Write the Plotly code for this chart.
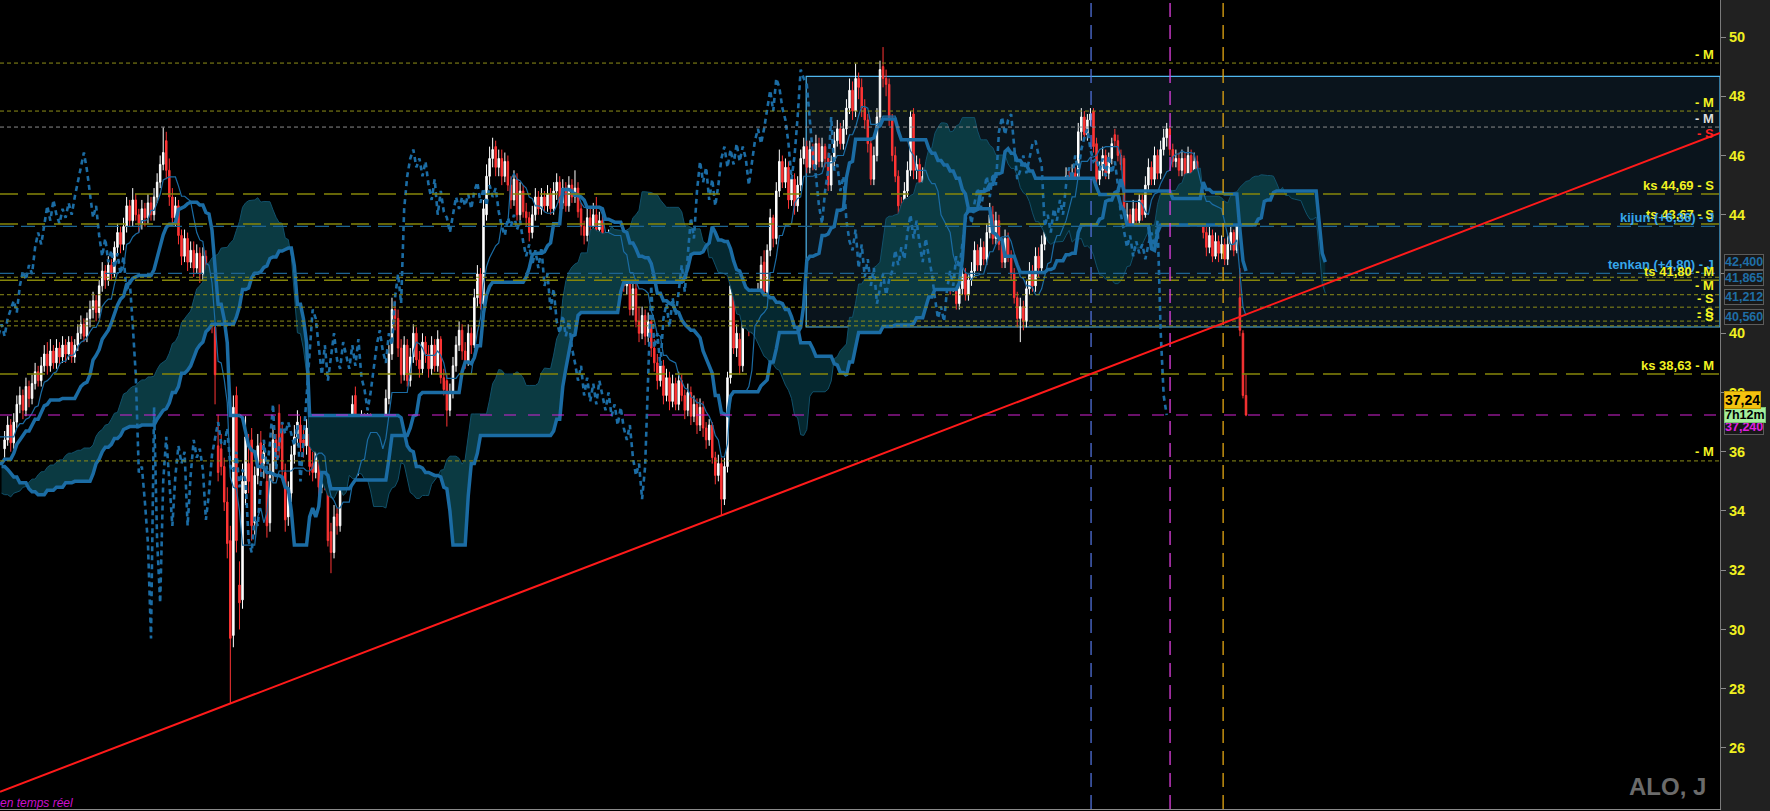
import numpy as np
import pandas as pd
import plotly.graph_objects as go

# ---------------- data ----------------
# hidden history bars (needed only for the Ichimoku look-back windows)
hist_close = [37.6, 38.0, 37.8, 37.5, 37.1, 37.3, 36.8, 36.5, 36.9, 36.4,
              36.0, 36.3, 35.8, 35.5, 35.9, 35.3, 34.9, 35.2, 34.6, 34.3,
              34.7, 34.2, 33.8, 34.1, 33.5, 33.9, 33.3, 33.0, 33.4, 33.0,
              33.6, 34.0, 33.7, 34.3, 34.6, 34.2, 34.8, 35.1, 34.7, 35.2,
              34.9, 35.4, 35.0, 34.6, 35.1, 35.5, 35.0, 34.7, 35.2, 34.8,
              34.5, 34.9, 34.3, 34.7, 35.1, 34.6, 35.0, 35.4, 35.0, 35.5,
              35.8, 35.3, 35.7, 36.1, 35.6, 36.0, 36.4, 35.9, 36.3, 36.6,
              36.1, 36.5, 36.9, 36.3, 36.7, 37.0, 36.5, 36.1]
hist_high = [37.9, 38.3, 38.1, 37.8, 37.5, 37.6, 37.2, 36.8, 37.2, 36.8,
             36.4, 36.6, 36.2, 35.9, 36.2, 35.7, 35.3, 35.5, 35.0, 34.7,
             35.0, 34.6, 34.2, 34.4, 33.9, 34.2, 33.7, 33.4, 33.7, 33.4,
             33.9, 34.3, 34.1, 34.6, 34.9, 34.6, 35.1, 35.4, 35.1, 35.5,
             35.3, 35.7, 35.4, 35.0, 35.4, 35.8, 35.4, 35.1, 35.5, 35.2,
             34.9, 35.2, 34.7, 35.0, 35.4, 35.0, 35.3, 35.7, 35.4, 35.8,
             36.1, 35.7, 36.0, 36.4, 36.0, 36.3, 36.7, 36.3, 36.6, 36.9,
             36.5, 36.8, 37.2, 36.7, 37.0, 37.3, 36.9, 36.5]
hist_low = [37.2, 37.6, 37.4, 37.1, 36.8, 36.9, 36.4, 36.1, 36.5, 36.0,
            35.6, 35.9, 35.4, 35.1, 35.5, 34.9, 34.5, 34.8, 34.2, 33.9,
            34.3, 33.8, 33.4, 33.7, 33.1, 33.5, 32.9, 32.7, 33.0, 32.7,
            33.2, 33.6, 33.3, 33.9, 34.2, 33.8, 34.4, 34.7, 34.3, 34.8,
            34.5, 35.0, 34.6, 34.2, 34.7, 35.1, 34.6, 34.3, 34.8, 34.4,
            34.1, 34.5, 33.9, 34.3, 34.7, 34.2, 34.6, 35.0, 34.6, 35.1,
            35.4, 34.9, 35.3, 35.7, 35.2, 35.6, 36.0, 35.5, 35.9, 36.2,
            35.7, 36.1, 36.5, 35.9, 36.3, 36.6, 36.1, 35.7]

opens = [36.1, 36.4, 36.9, 36.3, 37.0, 37.6, 37.9, 37.4, 38.2, 37.8,
         38.3, 38.7, 38.4, 38.9, 39.3, 38.9, 39.4, 39.0, 39.5, 39.2,
         39.6, 39.3, 39.7, 39.2, 39.6, 40.0, 40.3, 39.9, 40.5, 40.8,
         41.1, 40.7, 41.6, 42.1, 41.8, 42.3, 42.0, 42.9, 43.4, 43.0,
         43.6, 44.3, 43.8, 44.5, 44.0, 43.7, 44.2, 43.9, 44.4, 44.0,
         44.6, 45.1, 45.7, 46.5, 45.5, 44.6, 43.9, 44.3, 43.3, 42.6,
         43.2, 42.4, 42.8, 42.2, 42.7, 42.0, 42.6, 41.4, 41.8, 40.2,
         36.2, 36.1, 35.5, 34.3, 33.0, 29.8, 37.9, 31.5, 31.0, 34.6,
         35.6, 36.4, 33.6, 35.2, 36.3, 35.6, 35.0, 33.6, 35.2, 36.4,
         37.3, 36.7, 35.3, 33.8, 34.6, 35.9, 36.5, 36.9, 36.4, 36.2,
         36.6, 35.6, 35.3, 36.0, 34.8, 35.4, 34.9, 33.3, 32.6, 33.9,
         33.5, 34.8, 36.45, 35.4, 36.3, 37.9, 35.4, 36.2, 37.0, 36.6,
         37.0, 36.6, 36.2, 36.1, 35.0, 36.4, 37.8, 39.3, 40.8, 40.5,
         39.5, 38.6, 39.6, 38.4, 39.2, 40.0, 39.1, 38.8, 39.7, 39.3,
         38.8, 39.6, 38.9, 39.8, 38.5, 38.4, 37.4, 38.0, 38.9, 39.6,
         40.1, 39.4, 39.0, 40.0, 39.6, 41.2, 42.0, 41.0, 44.0, 45.3,
         45.9, 46.3, 45.6, 45.9, 45.3, 45.8, 45.0, 44.5, 45.2, 44.0,
         44.8, 44.1, 43.9, 43.4, 44.0, 44.6, 44.2, 44.6, 44.3, 44.7,
         44.2, 44.8, 45.1, 44.4, 44.9, 44.3, 45.0, 44.6, 44.9, 44.2,
         43.6, 43.3, 43.9, 43.6, 44.0, 43.5, 43.8, 43.1, 42.6, 43.0,
         42.3, 42.8, 42.2, 42.9, 41.6, 42.0, 40.8, 41.5, 40.4, 40.0,
         40.6, 39.9, 40.4, 39.5, 39.0, 38.4, 38.9, 37.9, 38.5, 37.7,
         38.3, 37.6, 38.4, 37.9, 37.4, 38.0, 37.2, 37.6, 36.9, 37.5,
         36.8, 36.4, 36.9, 35.8, 35.2, 35.6, 34.4, 35.5, 38.5, 41.8,
         39.5, 39.8, 38.9, 40.5, 41.0, 40.2, 41.2, 40.6, 41.4, 42.4,
         41.4, 42.8, 43.9, 43.2, 44.8, 45.8, 45.1, 45.6, 44.5, 45.2,
         44.3, 45.0, 45.9, 46.3, 45.6, 46.2, 45.7, 46.4, 45.8, 46.3,
         45.9, 45.0, 45.8, 46.5, 46.9, 46.4, 46.9, 47.6, 48.2, 47.5,
         48.6, 48.3, 47.6, 47.2, 46.4, 45.2, 46.0, 47.3, 49.0, 48.6,
         48.4, 47.2, 46.0, 45.3, 44.3, 43.7, 44.8, 45.5, 47.4, 45.5,
         45.7, 44.8, 45.3, 43.8, 43.1, 42.8, 43.5, 42.2, 43.0, 41.9,
         42.5, 41.6, 42.2, 41.0, 41.5, 42.0, 41.3, 41.8, 42.1, 42.8,
         42.3, 42.9, 42.5, 43.4, 44.0, 43.2, 43.8, 43.0, 42.4, 43.2,
         42.6, 42.0, 41.2, 40.5, 40.9, 40.4, 41.5, 42.1, 41.6, 42.6,
         42.2, 43.0, 43.8, 44.3, 43.7, 44.4, 44.9, 44.2, 44.8, 45.3,
         44.6, 45.4, 45.0, 46.8, 47.3, 46.7, 47.2, 47.5, 46.4, 45.2,
         45.5, 46.0, 45.4, 45.9, 46.7, 46.5, 46.0, 45.9, 43.6, 44.0,
         43.4, 44.2, 43.8, 44.5, 44.0, 45.0, 45.6, 45.2, 46.0, 45.4,
         46.2, 46.6, 46.9, 46.2, 45.8, 45.9, 45.5, 45.9, 45.3, 46.0,
         45.4, 45.8, 45.0, 44.1, 43.4, 42.9, 43.3, 42.6, 43.1, 42.7,
         43.0, 42.5, 43.0, 43.4, 42.8, 41.2, 40.0, 37.9]
highs = [36.7, 37.2, 37.1, 37.3, 37.9, 38.2, 38.1, 38.5, 38.4, 38.6,
         39.0, 38.9, 39.2, 39.6, 39.7, 39.8, 39.6, 39.8, 39.7, 39.9,
         39.8, 39.9, 39.9, 39.8, 40.3, 40.6, 40.5, 40.7, 41.1, 41.4,
         41.3, 41.8, 42.4, 42.3, 42.6, 42.5, 43.1, 43.7, 43.6, 43.9,
         44.6, 44.5, 44.9, 44.7, 44.2, 44.5, 44.4, 44.7, 44.6, 44.9,
         45.4, 46.0, 46.95, 46.8, 45.9, 44.9, 44.6, 44.5, 43.5, 43.5,
         43.4, 43.1, 43.1, 43.0, 42.9, 42.9, 42.8, 42.1, 42.0, 40.5,
         37.25, 36.6, 35.8, 34.8, 33.5, 37.9, 38.2, 32.3, 35.6, 37.2,
         36.6, 36.8, 35.5, 36.6, 36.7, 36.4, 35.3, 35.6, 36.9, 36.6,
         37.6, 37.0, 35.6, 35.0, 36.2, 36.9, 37.4, 37.2, 36.8, 37.1,
         36.8, 36.0, 36.3, 36.2, 35.7, 35.6, 35.1, 33.6, 34.2, 34.1,
         35.1, 36.7, 36.7, 36.6, 37.9, 38.2, 36.5, 37.4, 37.3, 37.3,
         37.3, 36.9, 37.1, 36.4, 36.7, 38.1, 39.6, 41.2, 41.1, 40.8,
         39.8, 39.9, 39.8, 39.5, 40.3, 40.2, 39.4, 40.0, 39.9, 39.6,
         39.9, 39.8, 40.1, 39.9, 38.8, 38.6, 38.3, 39.2, 39.9, 40.4,
         40.3, 39.7, 40.3, 40.2, 41.5, 42.3, 42.2, 44.5, 45.7, 46.3,
         46.6, 46.5, 46.2, 46.2, 46.1, 46.0, 45.3, 45.5, 45.4, 45.1,
         45.0, 44.4, 44.1, 44.3, 44.9, 44.8, 44.9, 44.8, 45.0, 44.9,
         45.1, 45.4, 45.3, 45.2, 45.1, 45.3, 45.2, 45.5, 45.1, 44.4,
         43.8, 44.2, 44.2, 44.4, 44.6, 44.1, 44.0, 43.3, 43.5, 43.2,
         43.1, 43.0, 43.3, 43.1, 42.3, 42.2, 41.8, 41.7, 40.9, 40.9,
         40.8, 40.7, 40.6, 39.8, 39.3, 39.2, 39.1, 38.8, 38.7, 38.6,
         38.5, 38.7, 38.6, 38.1, 38.3, 38.2, 37.9, 37.8, 37.8, 37.7,
         37.0, 37.1, 37.0, 36.0, 35.9, 35.8, 35.8, 38.7, 41.9, 42.2,
         40.3, 40.0, 40.8, 41.3, 41.2, 41.5, 41.4, 41.7, 42.6, 42.8,
         43.0, 44.2, 44.0, 45.1, 46.2, 46.0, 45.9, 45.8, 45.5, 45.4,
         45.3, 46.2, 46.6, 46.5, 46.5, 46.4, 46.7, 46.6, 46.6, 46.4,
         46.1, 46.0, 46.8, 47.2, 47.1, 47.2, 47.9, 48.6, 48.5, 49.1,
         48.8, 48.6, 47.9, 47.4, 46.6, 46.3, 47.6, 49.2, 49.66, 48.9,
         48.6, 47.4, 46.3, 45.5, 44.6, 45.1, 45.8, 47.5, 47.6, 46.0,
         45.9, 45.6, 45.5, 44.0, 43.4, 43.8, 43.7, 43.3, 43.2, 42.8,
         42.7, 42.5, 42.4, 41.8, 42.3, 42.2, 42.0, 42.4, 43.1, 43.0,
         43.2, 43.1, 43.7, 44.4, 44.3, 44.1, 44.0, 43.2, 43.5, 43.4,
         42.8, 42.2, 41.4, 41.2, 41.1, 41.8, 42.4, 42.3, 42.9, 42.9,
         43.3, 44.1, 44.6, 44.5, 44.7, 45.2, 45.1, 45.0, 45.6, 45.5,
         45.7, 45.6, 47.1, 47.6, 47.5, 47.4, 47.6, 47.6, 46.6, 45.8,
         46.3, 46.2, 46.1, 46.6, 46.9, 46.7, 46.2, 46.0, 44.4, 44.2,
         44.5, 44.4, 44.7, 44.7, 45.3, 45.9, 45.8, 46.3, 46.2, 46.5,
         46.9, 47.1, 47.0, 46.4, 46.2, 46.1, 46.2, 46.1, 46.3, 46.2,
         46.1, 46.0, 45.2, 44.3, 43.6, 43.6, 43.5, 43.4, 43.3, 43.3,
         43.2, 43.3, 43.7, 43.5, 44.0, 42.2, 40.1, 38.6]
lows = [35.8, 36.2, 36.0, 36.1, 36.8, 37.3, 37.1, 37.2, 37.5, 37.6,
        38.1, 38.2, 38.2, 38.7, 38.6, 38.7, 38.8, 38.8, 38.9, 39.0,
        39.0, 39.1, 39.0, 39.0, 39.4, 39.8, 39.7, 39.7, 40.2, 40.5,
        40.4, 40.5, 41.4, 41.5, 41.6, 41.8, 41.9, 42.7, 42.7, 42.8,
        43.4, 43.6, 43.6, 43.8, 43.4, 43.5, 43.6, 43.7, 43.8, 43.8,
        44.4, 44.9, 45.5, 45.2, 44.3, 43.6, 43.6, 43.0, 42.3, 42.4,
        42.1, 42.2, 41.9, 42.0, 41.7, 41.8, 41.2, 41.1, 40.0, 37.6,
        35.0, 35.2, 34.0, 32.4, 27.5, 29.4, 32.6, 30.0, 30.7, 34.2,
        34.6, 33.0, 33.2, 34.9, 35.2, 35.1, 33.1, 33.3, 35.0, 35.4,
        35.8, 35.1, 33.3, 33.5, 34.3, 35.6, 36.2, 36.0, 35.8, 35.9,
        35.2, 35.0, 35.1, 34.5, 34.6, 34.7, 32.8, 31.9, 32.4, 33.2,
        33.3, 34.6, 35.1, 35.2, 36.1, 35.1, 35.2, 36.0, 36.3, 36.3,
        36.3, 35.9, 36.0, 34.8, 34.8, 36.2, 37.6, 39.1, 40.1, 39.2,
        38.3, 38.4, 38.2, 38.2, 39.0, 38.9, 38.5, 38.6, 39.0, 38.5,
        38.6, 38.7, 38.7, 38.3, 37.9, 36.85, 37.2, 37.8, 38.7, 39.4,
        39.1, 38.8, 38.9, 39.3, 39.5, 40.9, 40.8, 40.8, 43.8, 45.0,
        45.6, 45.3, 45.3, 45.0, 45.1, 44.8, 44.2, 44.3, 43.8, 43.8,
        43.9, 43.6, 43.1, 43.2, 43.8, 44.0, 44.0, 44.1, 44.1, 44.0,
        44.0, 44.5, 44.2, 44.2, 44.1, 44.1, 44.4, 44.4, 43.9, 43.3,
        43.0, 43.1, 43.3, 43.4, 43.3, 43.3, 42.9, 42.2, 42.4, 42.1,
        42.0, 42.0, 42.0, 41.4, 41.3, 40.6, 40.6, 40.2, 39.7, 39.8,
        39.6, 39.7, 39.2, 38.7, 38.1, 38.2, 37.6, 37.7, 37.4, 37.5,
        37.4, 37.4, 37.7, 37.1, 37.2, 36.9, 37.0, 36.6, 36.7, 36.5,
        36.1, 36.2, 35.6, 34.9, 35.0, 33.85, 34.2, 35.3, 38.3, 39.3,
        39.2, 38.6, 38.7, 40.2, 39.9, 40.0, 40.4, 40.4, 41.2, 41.1,
        41.2, 42.6, 42.9, 43.0, 44.6, 44.9, 44.9, 44.2, 44.3, 44.0,
        44.1, 44.8, 45.7, 45.4, 45.4, 45.5, 45.5, 45.6, 45.6, 45.6,
        44.8, 44.8, 45.6, 46.3, 46.2, 46.2, 46.7, 47.4, 47.2, 47.3,
        47.9, 47.3, 46.9, 46.1, 45.0, 45.0, 45.8, 47.1, 48.3, 48.0,
        47.0, 45.8, 45.1, 44.0, 43.4, 43.5, 44.6, 45.3, 45.2, 45.2,
        44.5, 44.6, 43.6, 42.8, 42.5, 42.6, 42.0, 42.0, 41.7, 41.7,
        41.3, 41.4, 40.8, 40.8, 41.3, 41.1, 41.1, 41.6, 41.9, 42.1,
        42.1, 42.3, 42.3, 43.2, 43.0, 43.0, 42.8, 42.2, 42.2, 42.4,
        41.8, 41.0, 40.2, 39.7, 40.1, 40.2, 41.3, 41.4, 41.4, 41.9,
        42.0, 42.8, 43.6, 43.5, 43.5, 44.2, 44.0, 44.0, 44.6, 44.3,
        44.4, 44.8, 44.9, 46.5, 46.5, 46.5, 47.0, 46.1, 45.0, 45.0,
        45.3, 45.2, 45.2, 45.7, 46.3, 45.8, 45.5, 42.0, 43.3, 43.1,
        43.2, 43.6, 43.6, 43.8, 43.9, 44.8, 45.0, 45.0, 45.2, 45.2,
        46.0, 46.3, 46.0, 45.6, 45.6, 45.3, 45.3, 45.1, 45.1, 45.2,
        45.2, 44.8, 43.9, 43.2, 42.6, 42.7, 42.4, 42.5, 42.4, 42.5,
        42.3, 42.3, 42.8, 42.6, 42.7, 39.9, 37.8, 37.2]
closes = [36.4, 36.9, 36.3, 37.0, 37.6, 37.9, 37.4, 38.2, 37.8, 38.3,
          38.7, 38.4, 38.9, 39.3, 38.9, 39.4, 39.0, 39.5, 39.2, 39.6,
          39.3, 39.7, 39.2, 39.6, 40.0, 40.3, 39.9, 40.5, 40.8, 41.1,
          40.7, 41.6, 42.1, 41.8, 42.3, 42.0, 42.9, 43.4, 43.0, 43.6,
          44.3, 43.8, 44.5, 44.0, 43.7, 44.2, 43.9, 44.4, 44.0, 44.6,
          45.1, 45.7, 46.1, 45.5, 44.6, 43.9, 44.3, 43.3, 42.6, 43.2,
          42.4, 42.8, 42.2, 42.7, 42.0, 42.6, 41.4, 41.8, 40.3, 38.6,
          35.3, 35.5, 34.3, 32.9, 29.7, 37.5, 33.0, 30.9, 35.0, 36.5,
          35.0, 33.5, 35.2, 36.2, 35.6, 36.0, 33.5, 35.2, 36.4, 35.8,
          36.1, 35.4, 33.7, 34.6, 35.9, 36.5, 37.0, 36.3, 36.2, 36.8,
          35.5, 35.3, 36.0, 34.8, 35.4, 35.0, 33.0, 32.6, 33.8, 33.5,
          34.8, 36.4, 35.4, 36.3, 37.6, 35.4, 36.2, 37.0, 36.6, 37.0,
          36.6, 36.2, 36.9, 35.0, 36.4, 37.8, 39.3, 40.8, 40.5, 39.5,
          38.6, 39.6, 38.4, 39.2, 40.0, 39.1, 38.8, 39.7, 39.3, 38.8,
          39.6, 38.9, 39.8, 38.5, 38.1, 37.4, 38.0, 38.9, 39.6, 40.1,
          39.4, 39.0, 40.0, 39.6, 41.2, 42.0, 41.0, 44.2, 45.3, 45.9,
          46.2, 45.6, 45.9, 45.3, 45.8, 45.0, 44.5, 45.2, 44.0, 44.8,
          44.1, 43.9, 43.4, 44.0, 44.6, 44.2, 44.6, 44.3, 44.7, 44.2,
          44.8, 45.1, 44.4, 44.9, 44.3, 45.0, 44.6, 44.9, 44.1, 43.6,
          43.3, 43.9, 43.6, 44.0, 43.5, 43.8, 43.1, 42.6, 43.0, 42.3,
          42.8, 42.2, 42.9, 41.6, 42.0, 40.8, 41.5, 40.4, 40.0, 40.6,
          39.9, 40.4, 39.5, 39.0, 38.4, 38.9, 37.9, 38.5, 37.7, 38.3,
          37.6, 38.4, 37.9, 37.4, 38.0, 37.2, 37.6, 36.9, 37.5, 36.8,
          36.4, 36.9, 35.8, 35.2, 35.6, 34.4, 35.5, 38.5, 41.6, 39.5,
          40.0, 38.9, 40.5, 41.0, 40.2, 41.2, 40.6, 41.4, 42.3, 41.4,
          42.8, 43.9, 43.2, 44.8, 45.8, 45.1, 45.6, 44.5, 45.2, 44.3,
          45.0, 45.9, 46.3, 45.6, 46.2, 45.7, 46.4, 45.8, 46.3, 45.9,
          45.0, 45.8, 46.5, 46.9, 46.4, 46.9, 47.6, 48.2, 47.5, 48.6,
          48.3, 47.6, 47.2, 46.4, 45.2, 46.0, 47.3, 48.9, 48.6, 48.4,
          47.2, 46.0, 45.3, 44.3, 43.7, 44.8, 45.5, 47.3, 45.5, 45.7,
          44.8, 45.3, 43.8, 43.1, 42.8, 43.5, 42.2, 43.0, 41.9, 42.5,
          41.6, 42.2, 41.0, 41.5, 42.0, 41.3, 41.8, 42.1, 42.8, 42.3,
          42.9, 42.5, 43.4, 44.0, 43.2, 43.8, 43.0, 42.4, 43.2, 42.6,
          42.0, 41.2, 40.5, 40.9, 40.4, 41.5, 42.1, 41.6, 42.6, 42.2,
          43.0, 43.8, 44.3, 43.7, 44.4, 44.9, 44.2, 44.8, 45.3, 44.6,
          45.4, 45.0, 46.8, 47.3, 46.7, 47.2, 47.4, 46.3, 45.2, 45.5,
          46.0, 45.4, 45.9, 46.4, 46.5, 46.0, 45.7, 43.6, 44.0, 43.4,
          44.2, 43.8, 44.5, 44.0, 45.0, 45.6, 45.2, 46.0, 45.4, 46.2,
          46.6, 46.9, 46.2, 45.8, 45.9, 45.5, 45.9, 45.3, 46.0, 45.4,
          45.8, 45.0, 44.0, 43.4, 42.9, 43.3, 42.6, 43.1, 42.7, 43.0,
          42.5, 43.0, 43.4, 42.8, 43.8, 40.1, 37.9, 37.24]

tick_values = [26, 28, 30, 32, 34, 36, 38, 40, 42, 44, 46, 48, 50]
level_values = [49.12, 47.50, 46.96, 44.70, 43.69, 43.61, 42.02, 41.89,
                41.79, 41.30, 40.88, 40.41, 40.25, 38.62, 35.69]
level_labels = ["- M", "- M", "- M", "ks 44,69 - S", "ts 43,67 - S",
                "kijun (+6,36) - J", "tenkan (+4,80) - J", "", "ts 41,80 - M",
                "- M", "- S", "- S", "- S", "ks 38,63 - M", "- M"]
tag_values = [42.400, 41.865, 41.212, 40.560]
last_price = 37.24
countdown_text = "7h12m"
box_top, box_bottom = 48.67, 40.21
symbol_text = "ALO, J"
status_text = "en temps réel"

# ---------------- styles / layout constants ----------------
level_styles = ["olive_dot", "olive_dot", "gray_dot", "olive_long", "olive_long",
                "blue_long", "blue_long", "olive_dot", "olive_long", "olive_dot",
                "olive_dot", "olive_dot", "olive_dot", "olive_long", "olive_dot"]
STYLE = {
    "olive_dot": dict(color="#8e8e18", dash="4px,3px", width=1, text="#f2f222"),
    "gray_dot": dict(color="#8a8a8a", dash="4px,3px", width=1, text="#dedede"),
    "olive_long": dict(color="#86860a", dash="18px,9px", width=1.5, text="#f2f222"),
    "blue_long": dict(color="#1d6492", dash="14px,7px", width=1.3, text="#36a6ea"),
}
X_RANGE = [-1.51, 562.4]
Y_RANGE = [23.94, 51.249]
BOX_LEFT = 262.8
VLINES = [(356.2, "#4f70d8"), (382.1, "#e040e0"), (399.5, "#e0a412")]
ICHI_BLUE = "#1b6ca4"
FONT = "Liberation Sans, Arial, sans-serif"
TAG_X = 1.0026

n = min(len(opens), len(highs), len(lows), len(closes))
opens, highs, lows, closes = opens[:n], highs[:n], lows[:n], closes[:n]
nh = min(len(hist_close), len(hist_high), len(hist_low))

# ---------------- Ichimoku from the candles ----------------
H = pd.Series(hist_high[:nh] + highs)
L = pd.Series(hist_low[:nh] + lows)
C = np.array(hist_close[:nh] + closes)
idx = np.arange(-nh, n)

tenkan = ((H.rolling(9).max() + L.rolling(9).min()) / 2).values
kijun = ((H.rolling(26).max() + L.rolling(26).min()) / 2).values
span_a = (tenkan + kijun) / 2
span_b = ((H.rolling(52).max() + L.rolling(52).min()) / 2).values
x_span = idx + 26
x_chikou = idx - 26

fig = go.Figure()

# cloud fill
m = ~np.isnan(span_a) & ~np.isnan(span_b)
xs, A, B = x_span[m], span_a[m], span_b[m]
up = A >= B
start = 0
for k in range(1, len(xs) + 1):
    if k == len(xs) or up[k] != up[start]:
        e = min(k + 1, len(xs))
        xx = list(xs[start:e]) + list(xs[start:e][::-1])
        yy = list(A[start:e]) + list(B[start:e][::-1])
        fig.add_trace(go.Scatter(
            x=xx, y=yy, fill="toself", mode="lines", line=dict(width=0),
            fillcolor="#0b3a42" if up[start] else "#052830",
            hoverinfo="skip", showlegend=False))
        start = k

fig.add_trace(go.Scatter(x=xs, y=A, mode="lines", line=dict(color="#11506a", width=1),
                         hoverinfo="skip", showlegend=False))
fig.add_trace(go.Scatter(x=xs, y=B, mode="lines", line=dict(color=ICHI_BLUE, width=3.5),
                         hoverinfo="skip", showlegend=False))
fig.add_trace(go.Scatter(x=idx, y=tenkan, mode="lines", line=dict(color=ICHI_BLUE, width=1.2),
                         hoverinfo="skip", showlegend=False))
fig.add_trace(go.Scatter(x=idx, y=kijun, mode="lines", line=dict(color=ICHI_BLUE, width=3.5),
                         hoverinfo="skip", showlegend=False))
fig.add_trace(go.Scatter(x=x_chikou, y=C, mode="lines",
                         line=dict(color=ICHI_BLUE, width=2.6, dash="5px,4px"),
                         hoverinfo="skip", showlegend=False))

# candles
vis = np.arange(n)
fig.add_trace(go.Candlestick(
    x=vis, open=opens, high=highs, low=lows, close=closes,
    increasing=dict(line=dict(color="#ffffff", width=1), fillcolor="#ffffff"),
    decreasing=dict(line=dict(color="#ff3535", width=1), fillcolor="#ff3535"),
    whiskerwidth=0, hoverinfo="skip", showlegend=False))

shapes = []
# right axis strip
shapes.append(dict(type="rect", xref="paper", yref="paper", x0=1, x1=1.03, y0=-0.01, y1=1.01,
                   fillcolor="#212121", line=dict(width=0), layer="below"))
# box
shapes.append(dict(type="rect", xref="x", yref="y", x0=BOX_LEFT, x1=X_RANGE[1],
                   y0=box_bottom, y1=box_top, fillcolor="#0a141c",
                   line=dict(color="#4fb6ee", width=1.2), layer="below"))
# level lines
for v, st in zip(level_values, level_styles):
    s = STYLE[st]
    shapes.append(dict(type="line", xref="paper", yref="y", x0=0, x1=1, y0=v, y1=v,
                       line=dict(color=s["color"], width=s["width"], dash=s["dash"])))
shapes.append(dict(type="line", xref="paper", yref="y", x0=0, x1=1, y0=last_price, y1=last_price,
                   line=dict(color="#d423d4", width=1.2, dash="12px,12px")))
# vertical lines
for xv, col in VLINES:
    shapes.append(dict(type="line", xref="x", yref="paper", x0=xv, x1=xv, y0=0, y1=1,
                       line=dict(color=col, width=1.3, dash="14px,8px")))
# trend line through the two swing lows
i1, i2 = 74, 235
slope = (lows[i2] - lows[i1]) / (i2 - i1)
ty0 = lows[i1] + slope * (X_RANGE[0] - i1)
ty1 = lows[i1] + slope * (X_RANGE[1] - i1)
shapes.append(dict(type="line", xref="x", yref="y", x0=X_RANGE[0], x1=X_RANGE[1], y0=ty0, y1=ty1,
                   line=dict(color="#ff1a1a", width=2)))

ann = []
for v, lab, st in zip(level_values, level_labels, level_styles):
    if not lab:
        continue
    ann.append(dict(xref="paper", yref="y", x=0.9977, y=v, xanchor="right", yanchor="middle",
                    yshift=9, text="<b>%s</b>" % lab, showarrow=False,
                    font=dict(family=FONT, size=13, color=STYLE[st]["text"])))
ann.append(dict(xref="paper", yref="y", x=0.9977, y=ty1, xanchor="right", yanchor="middle",
                yshift=-1, text="<b>- S</b>", showarrow=False,
                font=dict(family=FONT, size=13, color="#ff2020")))
for v in tag_values:
    ann.append(dict(xref="paper", yref="y", x=TAG_X, y=v, xanchor="left", yanchor="middle",
                    text="<b>%s</b>" % ("%.3f" % v).replace(".", ","), showarrow=False,
                    bgcolor="#181818", bordercolor="#5c5c5c", borderwidth=1, borderpad=0,
                    font=dict(family=FONT, size=12.5, color="#1f6ea6")))
ann.append(dict(xref="paper", yref="y", x=TAG_X, y=last_price, xanchor="left", yanchor="middle",
                yshift=-12, text="<b>%s</b>" % ("%.3f" % last_price).replace(".", ","), showarrow=False,
                bgcolor="#181818", bordercolor="#5c5c5c", borderwidth=1, borderpad=0,
                font=dict(family=FONT, size=12.5, color="#e020e0")))
ann.append(dict(xref="paper", yref="y", x=TAG_X, y=last_price, xanchor="left", yanchor="middle",
                yshift=0, text="<b>%s</b>" % countdown_text, showarrow=False,
                bgcolor="#a4ee9c", bordercolor="#7bc474", borderwidth=1, borderpad=0,
                font=dict(family=FONT, size=12.5, color="#000000")))
ann.append(dict(xref="paper", yref="y", x=TAG_X, y=last_price, xanchor="left", yanchor="middle",
                yshift=15, text="<b>%s</b>" % ("%.2f" % last_price).replace(".", ","), showarrow=False,
                bgcolor="#f4c20f", bordercolor="#c89a00", borderwidth=1, borderpad=0,
                font=dict(family=FONT, size=14, color="#000000")))
ann.append(dict(xref="paper", yref="paper", x=0.993, y=0.0284, xanchor="right", yanchor="middle",
                text="<b>%s</b>" % symbol_text, showarrow=False,
                font=dict(family=FONT, size=24, color="#6b6b6b")))
ann.append(dict(xref="paper", yref="paper", x=0.0, y=0.0074, xanchor="left", yanchor="middle",
                xshift=-2, text="<i>%s</i>" % status_text, showarrow=False,
                font=dict(family=FONT, size=12, color="#cc10cc")))

fig.update_layout(
    width=1770, height=811,
    margin=dict(l=0, r=50, t=0, b=2),
    paper_bgcolor="#000000", plot_bgcolor="#000000",
    showlegend=False, shapes=shapes, annotations=ann,
    xaxis=dict(range=X_RANGE, showgrid=False, zeroline=False, showticklabels=False,
               ticks="", showline=True, linecolor="#8a8a8a", linewidth=1,
               rangeslider=dict(visible=False), fixedrange=True),
    yaxis=dict(range=Y_RANGE, side="right", showgrid=False, zeroline=False,
               showline=True, linecolor="#7a7a7a", linewidth=1,
               ticks="outside", ticklen=5, tickcolor="#8a8a8a",
               tickvals=tick_values, ticktext=["<b>%d</b>" % t for t in tick_values],
               tickfont=dict(family=FONT, size=14.5, color="#f0f020"), fixedrange=True),
)

fig.write_html("out.html", config={"displayModeBar": False},
               post_script="document.body.style.margin='0';document.body.style.background='#000';document.body.style.overflow='hidden';")
